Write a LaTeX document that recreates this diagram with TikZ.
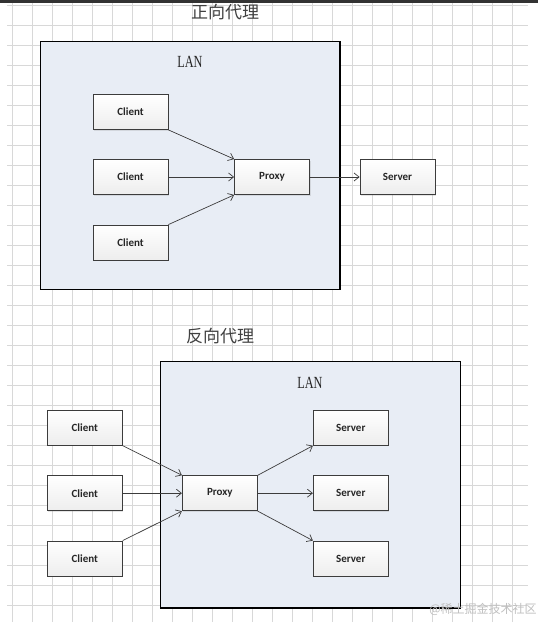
\documentclass[tikz,border=0pt]{standalone}
\usepackage{fontspec}
\setmainfont{Liberation Serif}
\newfontfamily\cjk{Noto Sans CJK SC}
\newfontfamily\boxfont{Carlito}
\usetikzlibrary{arrows.meta,shadows}
\definecolor{lanfill}{HTML}{E8EDF5}
\definecolor{gridgray}{HTML}{D8D8D8}
\definecolor{edgegray}{HTML}{3C3C3C}
\tikzstyle{lan} = [draw=black,line width=1.2pt,fill=lanfill]
\tikzstyle{unit} = [draw=edgegray,line width=0.8pt,rectangle,top color=white,bottom color=black!7,drop shadow={shadow xshift=1pt,shadow yshift=-1pt,opacity=0.2},minimum width=75pt,minimum height=35pt,inner sep=0,font=\boxfont\bfseries\fontsize{11}{13}\selectfont,text=black!85]
\tikzstyle{link} = [-{Straight Barb[length=5pt,width=8pt]},draw=edgegray,line width=0.7pt]
\tikzstyle{heading} = [font=\cjk\fontsize{17}{20}\selectfont,text=black!75]
\tikzstyle{tag} = [font=\fontsize{17}{20}\selectfont,xscale=0.72,text=black!85]
\def \gap {20}

\begin{document}
\begin{tikzpicture}[x=1pt,y=-1pt]
      \useasboundingbox (0,0) rectangle (538,622);
      \fill[white] (0,0) rectangle (538,622);
      \foreach \gx in {0,...,25} \draw[gridgray,line width=0.6pt] (12.3+\gap*\gx,3) -- (12.3+\gap*\gx,622);
      \foreach \gy in {0,...,30} \draw[gridgray,line width=0.6pt] (7,5+\gap*\gy) -- (528,5+\gap*\gy);
      \fill[black!80] (0,0) rectangle (538,2.5);

      \node[heading] (fwdtitle) at (225,12) {正向代理};
      \draw[lan] (40.7,41.5) rectangle (340,289.3);
      \node[tag] (fwdlan) at (190,62) {LAN};
      \node[unit] (fc1) at (130.5,112) {Client};
      \node[unit] (fc2) at (130.5,177) {Client};
      \node[unit] (fc3) at (130.5,242.5) {Client};
      \node[unit] (fproxy) at (272,177) {Proxy};
      \node[unit] (fserver) at (397.5,177) {Server};
      \draw[link] (fc1.south east) -- (fproxy.north west);
      \draw[link] (fc2.east) -- (fproxy.west);
      \draw[link] (fc3.north east) -- (fproxy.south west);
      \draw[link] (fproxy.east) -- (fserver.west);

      \node[heading] (revtitle) at (220,336.5) {反向代理};
      \draw[lan] (160.7,361.7) rectangle (460.7,608);
      \node[tag] (revlan) at (310,383) {LAN};
      \node[unit] (rc1) at (84.8,427.8) {Client};
      \node[unit] (rc2) at (84.8,493.2) {Client};
      \node[unit] (rc3) at (84.8,558.5) {Client};
      \node[unit] (rproxy) at (219.8,493.2) {Proxy};
      \node[unit] (rs1) at (350.8,427.8) {Server};
      \node[unit] (rs2) at (350.8,493.2) {Server};
      \node[unit] (rs3) at (350.8,558.5) {Server};
      \draw[link] (rc1.south east) -- (rproxy.north west);
      \draw[link] (rc2.east) -- (rproxy.west);
      \draw[link] (rc3.north east) -- (rproxy.south west);
      \draw[link] (rproxy.north east) -- (rs1.south west);
      \draw[link] (rproxy.east) -- (rs2.west);
      \draw[link] (rproxy.south east) -- (rs3.north west);

      \node[font=\cjk\fontsize{12}{14}\selectfont,text=black!25] (mark) at (483,609) {@稀土掘金技术社区};
    \end{tikzpicture}
\end{document}
